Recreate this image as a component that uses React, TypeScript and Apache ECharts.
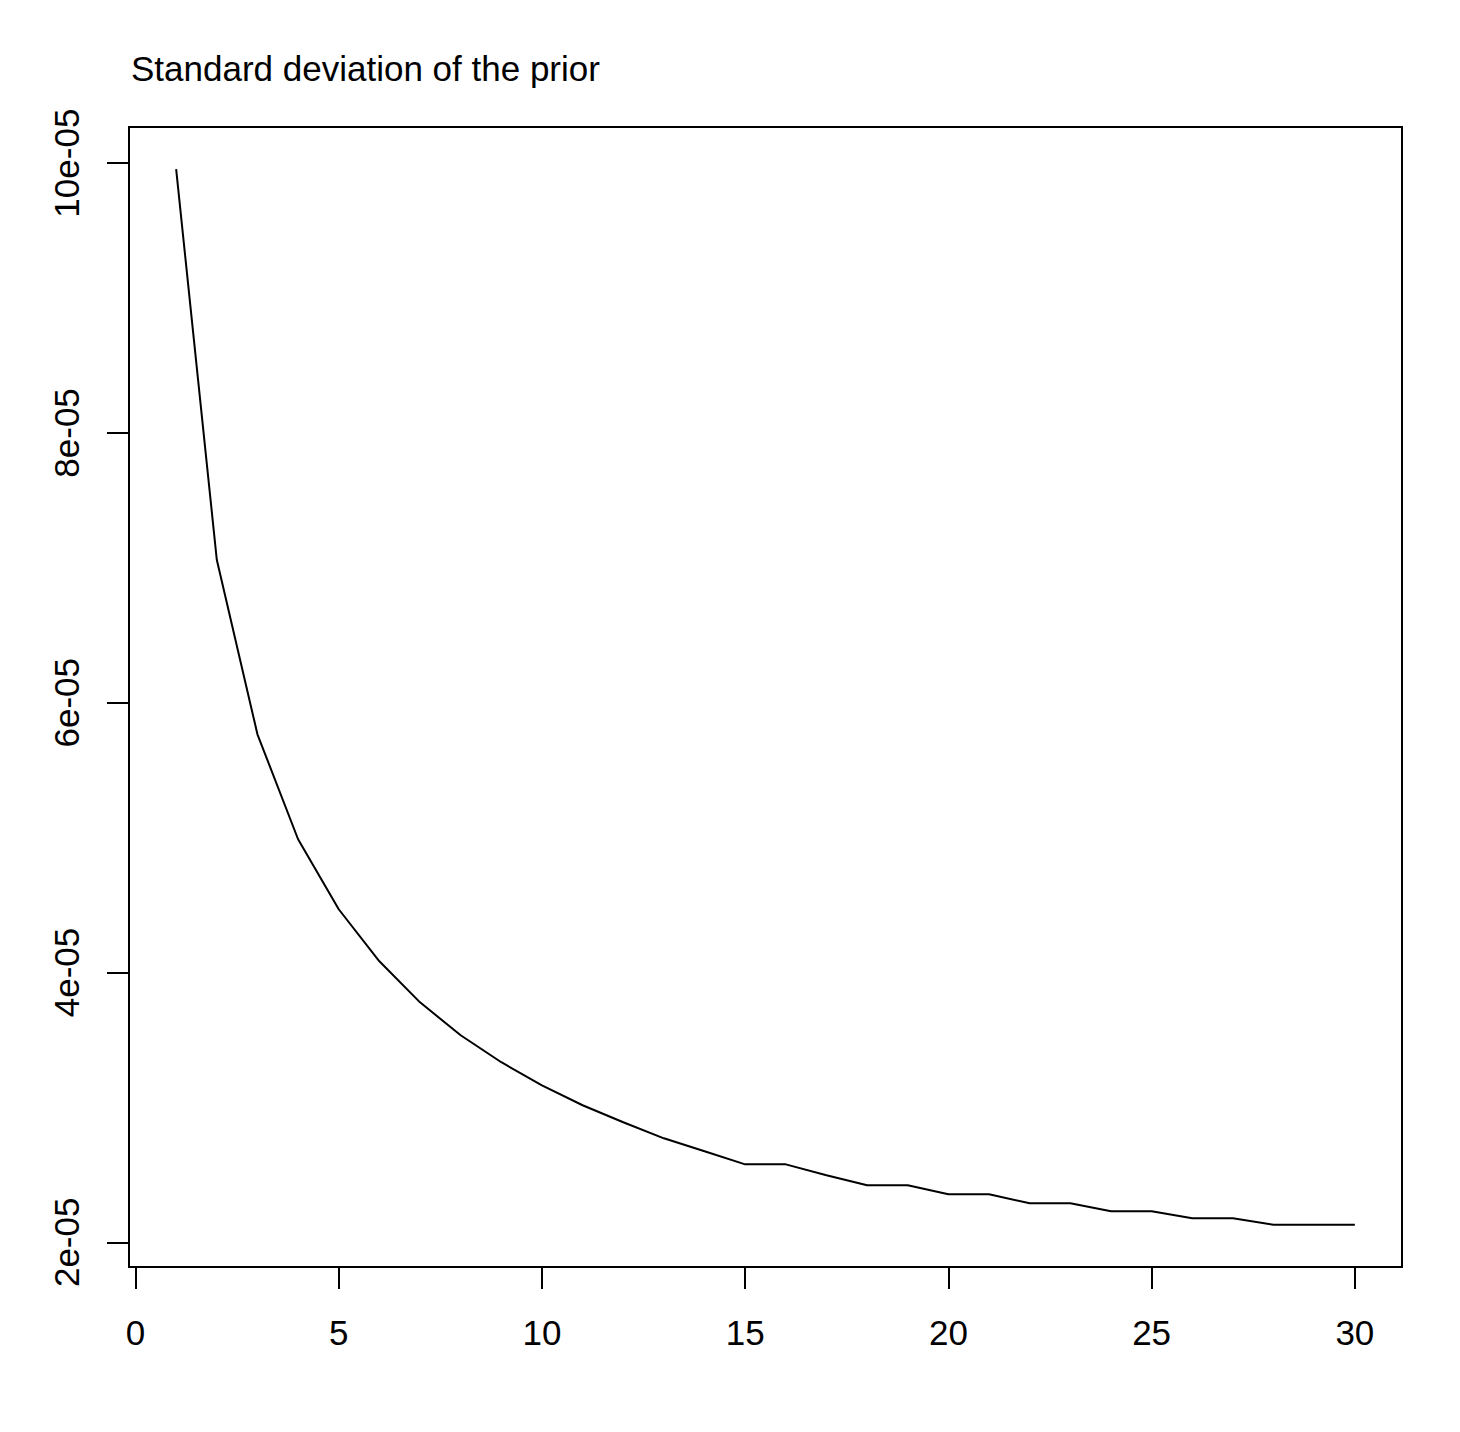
import React, { useEffect, useRef } from "react";
import * as echarts from "echarts";

const titleText = "Standard deviation of the prior";
const xValues = [1, 2, 3, 4, 5, 6, 7, 8, 9, 10, 11, 12, 13, 14, 15, 16, 17, 18, 19, 20, 21, 22, 23, 24, 25, 26, 27, 28, 29, 30];
// values in units of 1e-05
const sdValues = [9.955, 7.06, 5.766, 4.988, 4.469, 4.083, 3.779, 3.535, 3.335, 3.164, 3.016, 2.89, 2.771, 2.675, 2.578, 2.578, 2.497, 2.423, 2.423, 2.356, 2.356, 2.289, 2.289, 2.23, 2.23, 2.178, 2.178, 2.13, 2.13, 2.13];
const xTicks = [0, 5, 10, 15, 20, 25, 30];
const yTicks = [2, 4, 6, 8, 10];

const FONT = "'Liberation Sans', Arial, Helvetica, sans-serif";

export default function App() {
  const ref = useRef<HTMLDivElement>(null);
  useEffect(() => {
    if (!ref.current) return;
    const chart = echarts.init(ref.current, null, { renderer: "svg" });
    const xMinD = Math.min(...xValues);
    const xMaxD = Math.max(...xValues);
    const yMinD = Math.min(...sdValues) * 1e-5;
    const yMaxD = Math.max(...sdValues) * 1e-5;
    const xPad = (xMaxD - xMinD) * 0.04;
    const yPad = (yMaxD - yMinD) * 0.04;
    const data = xValues.map((x, i) => [x, sdValues[i] * 1e-5]);
    chart.setOption({
      animation: false,
      backgroundColor: "#ffffff",
      textStyle: { fontFamily: FONT },
      graphic: [
        {
          type: "text",
          x: 131,
          y: 68,
          style: {
            text: titleText,
            font: `35px ${FONT}`,
            fill: "#000",
            textAlign: "left",
            textVerticalAlign: "middle",
          },
        },
      ],
      grid: {
        left: 129,
        top: 127,
        right: 58,
        bottom: 165,
        show: true,
        borderColor: "#000",
        borderWidth: 2,
        backgroundColor: "transparent",
      },
      xAxis: {
        type: "value",
        min: xMinD - xPad,
        max: xMaxD + xPad,
        splitLine: { show: false },
        axisLine: { show: false, onZero: false },
        axisTick: {
          show: true,
          customValues: xTicks,
          length: 22,
          lineStyle: { color: "#000", width: 2 },
        },
        axisLabel: {
          customValues: xTicks,
          fontSize: 35,
          color: "#000",
          fontFamily: FONT,
          margin: 48,
          formatter: (v: number) => String(Math.round(v)),
        },
      },
      yAxis: {
        type: "value",
        min: yMinD - yPad,
        max: yMaxD + yPad,
        splitLine: { show: false },
        axisLine: { show: false, onZero: false },
        axisTick: {
          show: true,
          customValues: yTicks.map((v) => v * 1e-5),
          length: 22,
          lineStyle: { color: "#000", width: 2 },
        },
        axisLabel: {
          customValues: yTicks.map((v) => v * 1e-5),
          fontSize: 35,
          color: "#000",
          fontFamily: FONT,
          rotate: 90,
          margin: 45,
          formatter: (v: number) => `${Math.round(v * 1e5)}e-05`,
        },
      },
      series: [
        {
          type: "line",
          data,
          showSymbol: false,
          symbol: "none",
          lineStyle: { color: "#000", width: 2 },
          silent: true,
        },
      ],
    });
    return () => chart.dispose();
  }, []);
  return (
    <div
      ref={ref}
      style={{ position: "absolute", left: 0, top: 0, width: 1460, height: 1432 }}
    />
  );
}
